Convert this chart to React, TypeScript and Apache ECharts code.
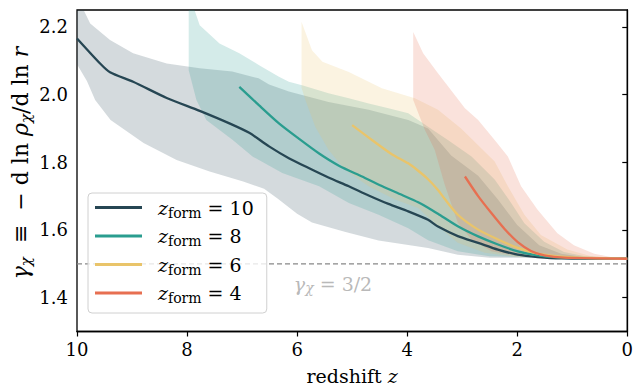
import React, { useEffect, useRef } from "react";
import * as echarts from "echarts";

// ---------- data ----------
const xTicks = [10, 8, 6, 4, 2, 0];
const yTicks = [1.4, 1.6, 1.8, 2.0, 2.2];
const formationRedshifts = ["10", "8", "6", "4"];
const palette = ["#264653", "#2a9d8f", "#e9c46a", "#e76f51"];

// median profiles gamma_chi(z) for each formation redshift
const median10 = [
  [10, 2.166], [9.58, 2.092], [9.4, 2.066], [8.98, 2.038], [8.37, 1.99], [7.77, 1.952],
  [7.23, 1.915], [6.87, 1.887], [6.51, 1.847], [6.15, 1.812], [5.79, 1.783], [5.43, 1.755],
  [5.06, 1.729], [4.7, 1.702], [4.34, 1.677], [3.98, 1.655], [3.62, 1.63], [3.44, 1.61],
  [3.08, 1.582], [2.71, 1.562], [2.35, 1.542], [1.99, 1.527], [1.63, 1.52], [1.2, 1.516], [0, 1.515],
];
const median8 = [
  [7.05, 2.023], [6.69, 1.968], [6.33, 1.915], [5.97, 1.87], [5.6, 1.826], [5.24, 1.79],
  [4.82, 1.758], [4.46, 1.73], [4.1, 1.704], [3.8, 1.682], [3.62, 1.666], [3.44, 1.648],
  [3.08, 1.611], [2.71, 1.581], [2.35, 1.557], [1.99, 1.537], [1.63, 1.525], [1.27, 1.519],
  [0.8, 1.516], [0, 1.515],
];
const median6 = [
  [5.0, 1.91], [4.64, 1.866], [4.28, 1.824], [3.98, 1.797], [3.8, 1.775], [3.62, 1.75],
  [3.44, 1.718], [3.32, 1.692], [3.08, 1.645], [2.71, 1.601], [2.35, 1.572], [1.99, 1.547],
  [1.63, 1.53], [1.27, 1.522], [0.91, 1.518], [0, 1.515],
];
const median4 = [
  [2.95, 1.758], [2.71, 1.7], [2.47, 1.65], [2.23, 1.603], [1.99, 1.564], [1.75, 1.538],
  [1.51, 1.525], [1.15, 1.518], [0, 1.515],
];

// scatter bands (upper / lower envelopes)
const upper10 = [
  [10, 2.3], [9.88, 2.25], [9.76, 2.21], [9.4, 2.161], [8.98, 2.122], [8.37, 2.092],
  [7.77, 2.078], [7.18, 2.068], [6.7, 2.048], [6.51, 2.03], [6.15, 2.009], [5.43, 1.978],
  [4.7, 1.955], [3.98, 1.925], [3.62, 1.9], [3.2, 1.82], [2.71, 1.76], [2.35, 1.69],
  [2.0, 1.615], [1.6, 1.555], [1.2, 1.53], [0.8, 1.52], [0, 1.515],
];
const lower10 = [
  [10, 2.09], [9.82, 2.04], [9.67, 1.984], [9.39, 1.925], [8.79, 1.857], [8.19, 1.807],
  [7.59, 1.773], [6.98, 1.743], [6.6, 1.722], [6.35, 1.692], [6.0, 1.648], [5.73, 1.622],
  [5.12, 1.594], [4.52, 1.569], [3.62, 1.547], [3.08, 1.527], [2.5, 1.518], [0, 1.515],
];
const upper8 = [
  [7.97, 2.3], [7.77, 2.205], [7.41, 2.151], [7.05, 2.122], [6.69, 2.087], [6.33, 2.053],
  [6.15, 2.038], [5.91, 2.028], [5.43, 2.004], [5.06, 1.989], [4.7, 1.974], [4.34, 1.96],
  [3.98, 1.945], [3.62, 1.905], [3.26, 1.866], [2.83, 1.817], [2.41, 1.749], [2.11, 1.68],
  [1.87, 1.62], [1.51, 1.565], [1.15, 1.535], [0.79, 1.523], [0, 1.515],
];
const lower8 = [
  [7.97, 2.072], [7.83, 1.984], [7.65, 1.925], [7.17, 1.866], [6.81, 1.817], [6.27, 1.768],
  [5.6, 1.729], [5.06, 1.68], [4.52, 1.645], [3.98, 1.605], [3.62, 1.57], [3.08, 1.537],
  [2.5, 1.522], [0, 1.515],
];
const upper6 = [
  [5.92, 2.215], [5.73, 2.131], [5.54, 2.097], [5.06, 2.067], [4.46, 2.019], [3.86, 1.989],
  [3.44, 1.955], [3.02, 1.9], [2.71, 1.85], [2.41, 1.802], [2.17, 1.729], [1.87, 1.645],
  [1.57, 1.585], [1.09, 1.542], [0.67, 1.523], [0, 1.515],
];
const lower6 = [
  [5.92, 2.02], [5.85, 1.984], [5.67, 1.905], [5.43, 1.837], [5.13, 1.778], [4.7, 1.729],
  [4.22, 1.69], [3.8, 1.665], [3.44, 1.611], [3.08, 1.562], [2.59, 1.533], [1.99, 1.52], [0, 1.515],
];
const upper4 = [
  [3.89, 2.185], [3.71, 2.122], [3.44, 2.063], [2.95, 1.96], [2.71, 1.925], [2.41, 1.866],
  [2.17, 1.817], [1.93, 1.729], [1.63, 1.66], [1.27, 1.59], [0.97, 1.555], [0.6, 1.53],
  [0.3, 1.52], [0, 1.515],
];
const lower4 = [
  [3.89, 1.984], [3.68, 1.896], [3.5, 1.837], [3.32, 1.735], [3.08, 1.621], [2.83, 1.572],
  [2.47, 1.537], [1.99, 1.523], [0, 1.515],
];

const medians = [median10, median8, median6, median4];
const uppers = [upper10, upper8, upper6, upper4];
const lowers = [lower10, lower8, lower6, lower4];

const refLevel = 1.5;
const refLine = [[10, refLevel], [0, refLevel]];
const refLabelPoint = [[6.06, 1.44]];

// ---------- chart ----------
const SERIF = "DejaVu Serif";

function bandSeries(upper: number[][], lower: number[][], color: string) {
  const poly = upper.concat(lower.slice().reverse());
  return {
    type: "custom",
    silent: true,
    clip: true,
    z: 1,
    data: poly,
    encode: { x: 0, y: 1 },
    renderItem: (params: any, api: any) => {
      if (params.dataIndex !== 0) return null;
      const points = poly.map((p) => api.coord(p));
      return {
        type: "polygon",
        shape: { points },
        style: { fill: color, opacity: 0.2 },
      };
    },
  };
}

export default function App() {
  const ref = useRef<HTMLDivElement>(null);

  useEffect(() => {
    if (!ref.current) return;
    const chart = echarts.init(ref.current, undefined, { renderer: "svg" });

    const bands = uppers.map((u, i) => bandSeries(u, lowers[i], palette[i]));
    const lines = medians.map((m, i) => ({
      type: "line",
      name: formationRedshifts[i],
      data: m,
      smooth: 0.25,
      showSymbol: false,
      symbol: "none",
      z: 3,
      lineStyle: { color: palette[i], width: 2.3 },
      itemStyle: { color: palette[i] },
    }));

    const option: any = {
      animation: false,
      textStyle: { fontFamily: SERIF },
      grid: {
        left: 77,
        right: 6,
        top: 10,
        bottom: 57,
        show: true,
        borderColor: "#000",
        borderWidth: 1.3,
      },
      xAxis: {
        type: "value",
        min: 0,
        max: 10,
        interval: 2,
        inverse: true,
        name: "{n|redshift }{i|z}",
        nameLocation: "middle",
        nameGap: 33,
        nameTextStyle: {
          fontFamily: SERIF,
          rich: {
            n: { fontFamily: SERIF, fontSize: 19, color: "#000", lineHeight: 22 },
            i: { fontFamily: SERIF, fontSize: 19, fontStyle: "italic", color: "#000", lineHeight: 22 },
          },
        },
        axisLine: { lineStyle: { color: "#000", width: 1.3 } },
        axisTick: { length: 5, lineStyle: { color: "#000", width: 1.2 } },
        axisLabel: {
          margin: 9,
          fontFamily: SERIF,
          fontSize: 18,
          color: "#000",
          formatter: (v: number) => String(v),
        },
        splitLine: { show: false },
      },
      yAxis: {
        type: "value",
        min: 1.3,
        max: 2.25,
        axisLine: { show: true, lineStyle: { color: "#000", width: 1.3 } },
        axisTick: { show: true, length: 5, customValues: yTicks, lineStyle: { color: "#000", width: 1.2 } },
        axisLabel: {
          margin: 9,
          fontFamily: SERIF,
          fontSize: 18,
          color: "#000",
          customValues: yTicks,
          formatter: (v: number) => v.toFixed(1),
        },
        splitLine: { show: false },
      },
      legend: {
        data: formationRedshifts,
        orient: "vertical",
        left: 88,
        top: 193,
        padding: [5, 13, 8, 7],
        itemGap: 7,
        itemWidth: 47,
        itemHeight: 3,
        icon: "rect",
        backgroundColor: "rgba(255,255,255,0.8)",
        borderColor: "#d0d0d0",
        borderWidth: 1,
        borderRadius: 4,
        formatter: (name: string) => `{z|z}{s|form}{n| = ${name}}`,
        textStyle: {
          fontFamily: SERIF,
          fontSize: 19,
          padding: [0, 0, 0, 11],
          rich: {
            z: { fontFamily: SERIF, fontSize: 19, fontStyle: "italic", color: "#000", lineHeight: 24 },
            s: { fontFamily: SERIF, fontSize: 14, color: "#000", verticalAlign: "bottom", lineHeight: 14 },
            n: { fontFamily: SERIF, fontSize: 19, color: "#000", lineHeight: 24 },
          },
        },
      },
      graphic: [
        {
          type: "text",
          x: 20,
          y: 163,
          rotation: Math.PI / 2,
          silent: true,
          style: {
            text: "{g|γ}{s|χ}{n|  ≡  − d ln }{g|ρ}{s|χ}{n|/d ln }{g|r}",
            align: "center",
            verticalAlign: "middle",
            font: "22px DejaVu Serif",
            rich: {
              g: { font: "italic 22px DejaVu Serif", fill: "#000", lineHeight: 26 },
              s: { font: "italic 15px DejaVu Serif", fill: "#000", verticalAlign: "bottom", lineHeight: 16 },
              n: { font: "22px DejaVu Serif", fill: "#000", lineHeight: 26 },
            },
          },
        },
      ],
      series: [
        ...bands,
        ...lines,
        {
          type: "line",
          name: "ref",
          data: refLine,
          silent: true,
          showSymbol: false,
          symbol: "none",
          z: 2,
          lineStyle: { color: "#888", width: 1.3, type: [5, 3] },
        },
        {
          type: "scatter",
          name: "refLabel",
          data: refLabelPoint,
          symbolSize: 0,
          silent: true,
          z: 4,
          label: {
            show: true,
            position: "right",
            distance: 0,
            formatter: "{g|γ}{s|χ}{n| = 3/2}",
            rich: {
              g: { fontFamily: SERIF, fontSize: 19, fontStyle: "italic", color: "#a6a6a6", lineHeight: 22 },
              s: { fontFamily: SERIF, fontSize: 14, fontStyle: "italic", color: "#a6a6a6", verticalAlign: "bottom", lineHeight: 13 },
              n: { fontFamily: SERIF, fontSize: 19, color: "#a6a6a6", lineHeight: 22 },
            },
          },
        },
      ],
    };

    chart.setOption(option);
    return () => chart.dispose();
  }, []);

  return (
    <div
      ref={ref}
      style={{ position: "fixed", left: 0, top: 0, width: 636, height: 390, background: "#fff" }}
    />
  );
}
